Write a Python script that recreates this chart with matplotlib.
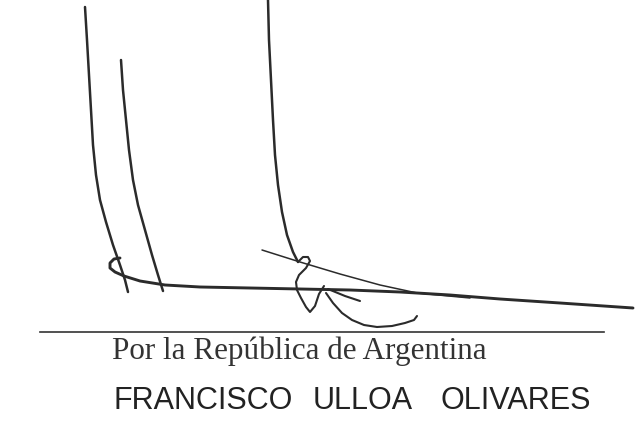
import matplotlib.pyplot as plt

# strokes of the signature, in pixel coordinates of the 638x421 image (y down)
stroke_left_x = [85, 87, 89, 91, 93, 96, 100, 106, 113, 120, 125, 128]
stroke_left_y = [7, 40, 75, 110, 145, 175, 200, 222, 245, 265, 280, 292]

stroke_mid_x = [121, 123, 126, 129, 133, 138, 145, 152, 158, 163]
stroke_mid_y = [60, 90, 120, 150, 180, 205, 230, 255, 275, 291]

base_x = [120, 114, 110, 110, 115, 124, 140, 165, 200, 250, 300, 350, 400, 450, 500, 560, 633]
base_y = [258, 259, 263, 268, 272, 276, 281, 285, 287, 288, 289, 290, 292, 295, 299, 303, 308]

thin_x = [262, 300, 340, 380, 417, 470]
thin_y = [250, 262, 274, 285, 293, 298]

stroke_tall_x = [268, 269, 271, 273, 275, 278, 282, 287, 293, 298]
stroke_tall_y = [0, 40, 80, 120, 155, 185, 212, 235, 252, 262]

loop_x = [298, 303, 308, 310, 306, 299, 296, 297, 301, 306, 310, 315, 319, 324]
loop_y = [262, 257, 257, 261, 268, 275, 282, 290, 298, 307, 312, 306, 294, 286]

arc_x = [326, 333, 342, 352, 364, 377, 392, 405, 414, 417]
arc_y = [293, 303, 313, 320, 325, 327, 326, 323, 320, 316]

dash_x = [328, 345, 360]
dash_y = [289, 296, 301]

rule_x = [40, 604]
rule_y = [332, 332]

caption = 'Por la República de Argentina'
name_words = ['FRANCISCO', 'ULLOA', 'OLIVARES']
name_word_x = [113, 313, 440]

ink = '#2b2b2b'

fig = plt.figure(figsize=(6.38, 4.21), dpi=100)
ax = fig.add_axes([0, 0, 1, 1])
ax.set_xlim(0, 638)
ax.set_ylim(421, 0)
ax.axis('off')

for xs, ys, lw in [(stroke_left_x, stroke_left_y, 1.8),
                   (stroke_mid_x, stroke_mid_y, 1.8),
                   (base_x, base_y, 2.1),
                   (thin_x, thin_y, 1.1),
                   (stroke_tall_x, stroke_tall_y, 1.8),
                   (loop_x, loop_y, 1.5),
                   (arc_x, arc_y, 1.5),
                   (dash_x, dash_y, 1.5)]:
    ax.plot(xs, ys, color=ink, linewidth=lw, solid_capstyle='round', solid_joinstyle='round')

ax.plot(rule_x, rule_y, color='#333333', linewidth=1.2)

ax.text(112, 359, caption, fontsize=22.4, family=['Liberation Serif', 'DejaVu Serif'],
        color='#333333', ha='left', va='baseline')
for word, wx in zip(name_words, name_word_x):
    ax.text(wx, 409, word, fontsize=22, family=['Liberation Sans', 'DejaVu Sans'],
            color='#222222', ha='left', va='baseline')

plt.savefig('out.png', dpi=100)
